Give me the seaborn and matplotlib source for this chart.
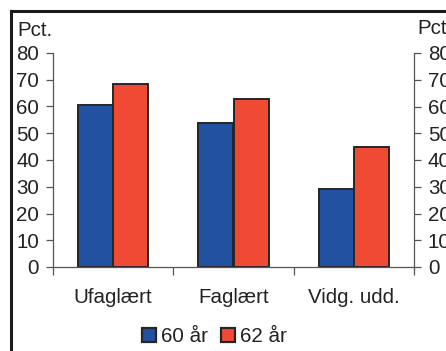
import matplotlib
matplotlib.use("Agg")
import matplotlib.pyplot as plt
import seaborn as sns
import pandas as pd
from matplotlib.lines import Line2D

categories = ["Ufaglært", "Faglært", "Vidg. udd."]
series_names = ["60 år", "62 år"]
values_60 = [60.6, 53.9, 29.0]
values_62 = [68.4, 62.7, 44.7]
yticks = [0, 10, 20, 30, 40, 50, 60, 70, 80]

sns.set_theme(style="white")
plt.rcParams["font.family"] = ["Liberation Sans", "DejaVu Sans"]

df = pd.DataFrame({
    "kat": categories * 2,
    "serie": [series_names[0]] * 3 + [series_names[1]] * 3,
    "pct": values_60 + values_62,
})

W, H = 446, 351
fig = plt.figure(figsize=(W / 100, H / 100), dpi=100)
ax = fig.add_axes([53 / W, 1 - 267 / H, (414 - 53) / W, (267 - 53) / H])

palette = {"60 år": "#2351a2", "62 år": "#f04a35"}
sns.barplot(data=df, x="kat", y="pct", hue="serie", order=categories,
            hue_order=series_names, palette=palette, width=0.583,
            edgecolor="#262626", linewidth=1.4, saturation=1, ax=ax)

ax.set_xlim(-0.5, 2.5)
ax.set_ylim(0, 80)
ax.set_yticks(yticks)
ax.set_xlabel("")
ax.set_ylabel("")
fs = 14.8
ax.tick_params(axis="y", which="major", direction="out", length=5, width=0.9,
               color="#555555", labelsize=fs, pad=5, left=True, labelcolor="#222222")
ax.set_xticks([0, 1, 2])
ax.set_xticklabels(categories)
ax.tick_params(axis="x", which="major", length=0, labelsize=fs, pad=15, labelcolor="#222222")
ax.set_xticks([-0.5, 0.5, 1.5, 2.5], minor=True)
ax.tick_params(axis="x", which="minor", direction="out", length=6, width=0.9,
               color="#555555", bottom=True)

for s in ["left", "bottom", "right"]:
    ax.spines[s].set_visible(True)
    ax.spines[s].set_color("#555555")
    ax.spines[s].set_linewidth(0.9)
ax.spines["top"].set_visible(False)

ax2 = ax.twinx()
ax2.set_ylim(0, 80)
ax2.set_yticks(yticks)
ax2.tick_params(axis="y", direction="out", length=5, width=0.9, color="#555555",
                labelsize=fs, pad=5, right=True, labelcolor="#222222")
for s in ["left", "bottom", "top", "right"]:
    ax2.spines[s].set_visible(False)

handles, labels = ax.get_legend_handles_labels()
if ax.get_legend() is not None:
    ax.get_legend().remove()
for h in handles:
    h.set_edgecolor("#262626")
    h.set_linewidth(1.6)
fig.legend(handles, labels, loc="center", bbox_to_anchor=(214.5 / W, 1 - 337 / H),
           ncol=2, frameon=False, fontsize=fs, handlelength=0.68, handleheight=0.68,
           handletextpad=0.25, columnspacing=0.65, borderpad=0, labelcolor="#222222")

fig.text(17 / W, 1 - 31 / H, "Pct.", fontsize=fs, ha="left", va="center", color="#222222")
fig.text(417 / W, 1 - 28 / H, "Pct.", fontsize=fs, ha="left", va="center", color="#222222")

# outer frame (cropped)
fig.add_artist(Line2D([11 / W, 11 / W], [0, 1 - 10.5 / H], transform=fig.transFigure,
                      color="#1a1a1a", linewidth=2.2, solid_capstyle="projecting"))
fig.add_artist(Line2D([11 / W, 1], [1 - 10.5 / H, 1 - 10.5 / H], transform=fig.transFigure,
                      color="#1a1a1a", linewidth=2.2, solid_capstyle="projecting"))

fig.savefig("out.png", dpi=100)
